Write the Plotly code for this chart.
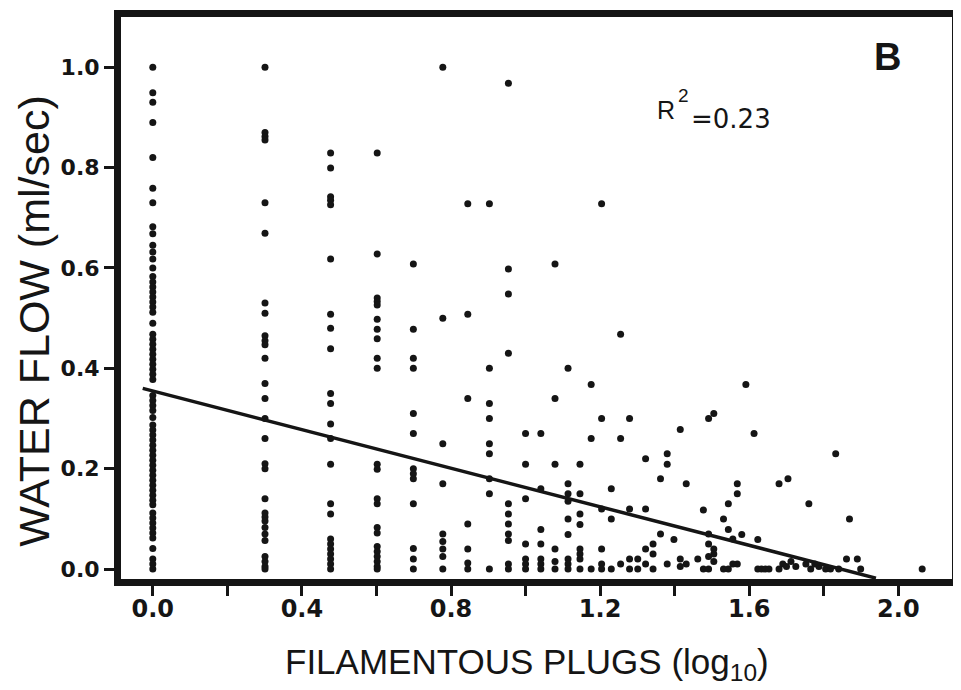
import plotly.graph_objects as go

# ---- data ----
# x positions (log10 of plug counts) of the dense columns
col_x = [0.0, 0.301, 0.477, 0.602, 0.699, 0.778, 0.845, 0.903, 0.954, 1.0,
         1.041, 1.079, 1.114, 1.146, 1.176, 1.204, 1.230, 1.255, 1.279, 1.301]

flow_c0 = [1.0, 0.949, 0.930, 0.890, 0.820, 0.759, 0.730, 0.682, 0.668, 0.645,
           0.632, 0.618, 0.600, 0.583, 0.572, 0.562, 0.552, 0.542, 0.532, 0.522,
           0.512, 0.490, 0.468, 0.458, 0.448, 0.438, 0.428, 0.418, 0.408, 0.398,
           0.388, 0.378, 0.346, 0.336, 0.326, 0.316, 0.302, 0.287, 0.277, 0.267,
           0.257, 0.247, 0.237, 0.227, 0.217, 0.207, 0.197, 0.187, 0.177, 0.167,
           0.157, 0.147, 0.137, 0.128, 0.112, 0.102, 0.092, 0.082, 0.072, 0.062,
           0.041, 0.020, 0.010, 0.0]
flow_c1 = [1.0, 0.870, 0.862, 0.855, 0.730, 0.669, 0.530, 0.510, 0.465, 0.455,
           0.447, 0.420, 0.370, 0.340, 0.300, 0.260, 0.210, 0.200, 0.140, 0.112,
           0.104, 0.096, 0.083, 0.070, 0.057, 0.025, 0.015, 0.005, 0.0]
flow_c2 = [0.829, 0.799, 0.742, 0.735, 0.726, 0.618, 0.508, 0.480, 0.439, 0.350,
           0.330, 0.289, 0.260, 0.209, 0.130, 0.110, 0.060, 0.050, 0.040, 0.030,
           0.020, 0.010, 0.0]
flow_c3 = [0.829, 0.628, 0.540, 0.533, 0.526, 0.498, 0.478, 0.459, 0.420, 0.400,
           0.209, 0.199, 0.140, 0.130, 0.083, 0.072, 0.045, 0.035, 0.025, 0.015,
           0.005, 0.0]
flow_c4 = [0.608, 0.478, 0.420, 0.400, 0.310, 0.270, 0.200, 0.190, 0.180, 0.130,
           0.041, 0.020, 0.0]
flow_c5 = [1.0, 0.500, 0.250, 0.170, 0.070, 0.055, 0.040, 0.025, 0.0]
flow_c6 = [0.728, 0.508, 0.340, 0.090, 0.040, 0.012, 0.0]
flow_c7 = [0.728, 0.400, 0.330, 0.300, 0.250, 0.230, 0.180, 0.150, 0.0]
flow_c8 = [0.968, 0.598, 0.548, 0.430, 0.130, 0.110, 0.090, 0.070, 0.057, 0.010, 0.0]
flow_c9 = [0.270, 0.209, 0.140, 0.050, 0.020, 0.010, 0.0]
flow_c10 = [0.270, 0.160, 0.079, 0.050, 0.020, 0.010, 0.0]
flow_c11 = [0.608, 0.340, 0.209, 0.040, 0.015, 0.0]
flow_c12 = [0.400, 0.170, 0.150, 0.135, 0.100, 0.069, 0.020, 0.010, 0.0]
flow_c13 = [0.209, 0.150, 0.110, 0.089, 0.040, 0.030, 0.020, 0.0]
flow_c14 = [0.368, 0.260, 0.0]
flow_c15 = [0.728, 0.300, 0.120, 0.040, 0.010, 0.0]
flow_c16 = [0.160, 0.100, 0.0]
flow_c17 = [0.468, 0.260, 0.010]
flow_c18 = [0.300, 0.120, 0.020, 0.0]
flow_c19 = [0.020, 0.0]

column_flows = [flow_c0, flow_c1, flow_c2, flow_c3, flow_c4, flow_c5, flow_c6,
                flow_c7, flow_c8, flow_c9, flow_c10, flow_c11, flow_c12, flow_c13,
                flow_c14, flow_c15, flow_c16, flow_c17, flow_c18, flow_c19]

# sparse points on the right side
sparse_x = [1.322, 1.322, 1.322, 1.322, 1.342, 1.342, 1.342, 1.362, 1.362,
            1.380, 1.380, 1.380, 1.398, 1.415, 1.415, 1.415, 1.431, 1.431,
            1.462, 1.477, 1.477, 1.491, 1.505, 1.491, 1.491, 1.505, 1.505,
            1.491, 1.505, 1.491, 1.531, 1.531, 1.544, 1.544, 1.544, 1.556,
            1.568, 1.568, 1.568, 1.556, 1.580, 1.591, 1.613, 1.623, 1.623,
            1.633, 1.643, 1.653, 1.680, 1.680, 1.690, 1.704, 1.700, 1.712,
            1.725, 1.752, 1.760, 1.765, 1.776, 1.787, 1.805, 1.818, 1.832,
            1.840, 1.861, 1.869, 1.890, 1.899, 2.064]
sparse_y = [0.220, 0.120, 0.040, 0.010, 0.050, 0.030, 0.0, 0.180, 0.070,
            0.230, 0.209, 0.010, 0.059, 0.278, 0.020, 0.005, 0.170, 0.010,
            0.020, 0.118, 0.0, 0.300, 0.310, 0.070, 0.050, 0.040, 0.030,
            0.025, 0.015, 0.0, 0.100, 0.0, 0.130, 0.079, 0.0, 0.060,
            0.170, 0.150, 0.010, 0.010, 0.069, 0.368, 0.270, 0.059, 0.0,
            0.0, 0.0, 0.0, 0.170, 0.0, 0.010, 0.180, 0.005, 0.015,
            0.005, 0.010, 0.130, 0.0, 0.010, 0.005, 0.0, 0.0, 0.230,
            0.0, 0.020, 0.100, 0.020, 0.0, 0.0]

# fitted regression line end points
line_x = [-0.027, 1.94]
line_y = [0.360, -0.018]

x_tick_vals = [0.0, 0.2, 0.4, 0.6, 0.8, 1.0, 1.2, 1.4, 1.6, 1.8, 2.0]
x_tick_text = ["0.0", "", "0.4", "", "0.8", "", "1.2", "", "1.6", "", "2.0"]
y_tick_vals = [0.0, 0.2, 0.4, 0.6, 0.8, 1.0]
y_tick_text = ["0.0", "0.2", "0.4", "0.6", "0.8", "1.0"]

# ---- build figure ----
pts_x, pts_y = [], []
for cx, flows in zip(col_x, column_flows):
    for v in flows:
        pts_x.append(cx)
        pts_y.append(v)
pts_x += sparse_x
pts_y += sparse_y

INK = "#151515"
fig = go.Figure()
fig.add_trace(go.Scatter(x=pts_x, y=pts_y, mode="markers",
                         marker=dict(size=7, color=INK, line=dict(width=0)),
                         hoverinfo="skip"))
fig.add_trace(go.Scatter(x=line_x, y=line_y, mode="lines",
                         line=dict(color=INK, width=3.5), hoverinfo="skip"))

# the page puts the figure 8px in from the window corner
OFF = 8
W, H = 953, 682
L, R, T, B = 113, 4, 2, 111
pw, ph = W - L - R, H - T - B

def px_to_paper(px, py):
    fx, fy = px - OFF, py - OFF
    return (fx - L) / pw, (H - B - fy) / ph

axis_common = dict(showline=True, linewidth=7, linecolor=INK, mirror=True,
                   ticks="outside", ticklen=10, tickwidth=3, tickcolor=INK,
                   showgrid=False, zeroline=False)

fig.update_layout(
    width=W, height=H,
    margin=dict(l=L, r=R, t=T, b=B),
    paper_bgcolor="white", plot_bgcolor="white",
    showlegend=False,
    xaxis=dict(range=[-0.0853, 2.144], tickvals=x_tick_vals, ticktext=x_tick_text,
               tickfont=dict(family="DejaVu Sans", size=24, color=INK, weight="bold"),
               ticklabelstandoff=-8,
               **axis_common),
    yaxis=dict(range=[-0.0197, 1.100], tickvals=y_tick_vals, ticktext=y_tick_text,
               tickfont=dict(family="DejaVu Sans", size=22, color=INK, weight="bold"),
               **axis_common),
)

annos = []
ax, ay = px_to_paper(529, 665)
annos.append(dict(text="FILAMENTOUS PLUGS (log<sub>10</sub>)", x=ax, y=ay,
                  xref="paper", yref="paper", xanchor="center", yanchor="middle",
                  showarrow=False,
                  font=dict(family="Liberation Sans, Arial", size=35, color=INK)))
ax, ay = px_to_paper(34, 318)
annos.append(dict(text="WATER FLOW (ml/sec)", x=ax, y=ay, textangle=-90,
                  xref="paper", yref="paper", xanchor="center", yanchor="middle",
                  showarrow=False,
                  font=dict(family="Liberation Sans, Arial", size=43, color=INK)))
ax, ay = px_to_paper(892, 50)
annos.append(dict(text="<b>B</b>", x=ax, y=ay, xref="paper", yref="paper",
                  xanchor="center", yanchor="middle", showarrow=False,
                  font=dict(family="Liberation Sans, Arial", size=38, color=INK)))
ax, ay = px_to_paper(658, 104)
annos.append(dict(text="R", x=ax, y=ay, xref="paper", yref="paper",
                  xanchor="left", yanchor="middle", showarrow=False,
                  font=dict(family="Liberation Sans, Arial", size=25, color=INK)))
ax, ay = px_to_paper(679, 89)
annos.append(dict(text="2", x=ax, y=ay, xref="paper", yref="paper",
                  xanchor="left", yanchor="middle", showarrow=False,
                  font=dict(family="Liberation Sans, Arial", size=19, color=INK)))
ax, ay = px_to_paper(692, 113)
annos.append(dict(text="=0.23", x=ax, y=ay, xref="paper", yref="paper",
                  xanchor="left", yanchor="middle", showarrow=False,
                  font=dict(family="DejaVu Sans", size=26, color=INK)))
fig.update_layout(annotations=annos)

fig.write_html("out.html")
